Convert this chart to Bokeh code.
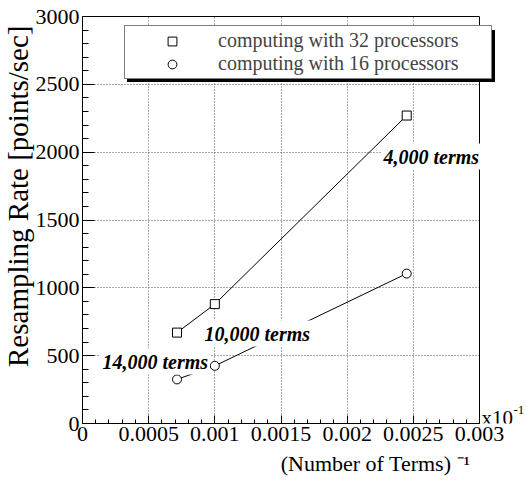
from bokeh.plotting import figure
from bokeh.models import (SingleIntervalTicker, FixedTicker, CustomJSTickFormatter, Label,
                          BoxAnnotation, Legend, LegendItem, Span, Title, LinearAxis, Range1d)
from bokeh.embed import file_html
from bokeh.resources import INLINE

# ---- data ----
inv_terms_32 = [0.000714, 0.001, 0.00245]
rate_32 = [670, 880, 2270]
inv_terms_16 = [0.000714, 0.001, 0.00245]
rate_16 = [325, 425, 1105]
term_labels = ["14,000 terms", "10,000 terms", "4,000 terms"]
series_names = ["computing with 32 processors", "computing with 16 processors"]
x_ticks = [0, 0.0005, 0.001, 0.0015, 0.002, 0.0025, 0.003]
x_minor_step = 0.0001
X_MAX = 0.003
Y_MAX = 3000

SERIF = "Liberation Serif"

# layout (pixels): axes box 82..479 x 16..423; frame extended to the right edge
W, H = 526, 481
BOX_L, BOX_R, BOX_T, BOX_B = 82, 479, 16, 423
x_end = X_MAX * (W - BOX_L) / (BOX_R - BOX_L)

p = figure(width=W, height=H, x_range=Range1d(0, x_end), y_range=Range1d(0, Y_MAX),
           output_backend="svg", toolbar_location=None, title=None,
           min_border_left=BOX_L, min_border_right=0, min_border_top=BOX_T,
           min_border_bottom=H - BOX_B)
p.background_fill_color = "white"
p.border_fill_color = "white"
p.outline_line_color = None

x_minor = [round(i * x_minor_step, 6) for i in range(0, 31)]
p.xaxis.ticker = FixedTicker(ticks=x_ticks, minor_ticks=x_minor)
p.xgrid.ticker = FixedTicker(ticks=x_ticks)
p.yaxis.ticker = SingleIntervalTicker(interval=500, num_minor_ticks=5)
p.ygrid.ticker = SingleIntervalTicker(interval=500)
p.xaxis.formatter = CustomJSTickFormatter(code="return Number(tick.toFixed(5)).toString();")
p.xaxis.bounds = (0, X_MAX)

for ax in (p.xaxis, p.yaxis):
    ax.axis_line_color = "black"
    ax.major_tick_line_color = "black"
    ax.minor_tick_line_color = "black"
    ax.major_tick_out = 0
    ax.minor_tick_out = 0
    ax.major_label_text_font = SERIF
    ax.major_label_text_font_size = "22px"
    ax.major_label_text_color = "black"
    ax.axis_label = None
p.xaxis.major_tick_in = 8
p.xaxis.minor_tick_in = 4
p.yaxis.major_tick_in = 12
p.yaxis.minor_tick_in = 6
p.xaxis.major_label_standoff = 3
p.yaxis.major_label_standoff = 3

for g in (p.xgrid, p.ygrid):
    g.grid_line_color = "#555555"
    g.grid_line_dash = "1 2"
    g.grid_line_width = 1

# white cover for the area right of the axes box (hides grid there)
p.add_layout(BoxAnnotation(left=X_MAX, fill_color="white", fill_alpha=1,
                           line_color=None, level="underlay"))
# top edge of the box
top_axis = LinearAxis(ticker=FixedTicker(ticks=[]), bounds=(0, X_MAX),
                      axis_line_color="black", major_tick_in=0, major_tick_out=0,
                      minor_tick_in=0, minor_tick_out=0)
p.add_layout(top_axis, "above")
# right edge of the box
p.add_layout(Span(location=X_MAX, dimension="height", line_color="black", line_width=1))

# ---- data lines and markers ----
p.line(inv_terms_32, rate_32, line_color="black", line_width=1)
p.line(inv_terms_16, rate_16, line_color="black", line_width=1)
sq = p.scatter(inv_terms_32, rate_32, marker="square", size=9, fill_color="white",
               line_color="black", line_width=1)
ci = p.scatter(inv_terms_16, rate_16, marker="circle", size=9, fill_color="white",
               line_color="black", line_width=1)

# ---- term annotations (screen coords relative to frame) ----
term_pos = [(18, 62), (120, 90), (299, 267)]
for txt, (sx, sy) in zip(term_labels, term_pos):
    p.add_layout(Label(x=sx, y=sy, x_units="screen", y_units="screen", text=txt,
                       text_font=SERIF, text_font_size="20px", text_font_style="bold italic",
                       text_color="black", text_align="left", text_baseline="middle",
                       background_fill_color="white", padding=2))

# ---- legend with shadow ----
def make_legend(loc, bg, labels):
    return Legend(items=[LegendItem(label=labels[0], renderers=[sq]),
                         LegendItem(label=labels[1], renderers=[ci])],
                  location=loc, padding=3, margin=0, spacing=0,
                  glyph_width=88, glyph_height=22, label_height=22, label_standoff=2,
                  label_width=270,
                  label_text_font=SERIF, label_text_font_size="20px",
                  border_line_color="black", border_line_width=1,
                  background_fill_color=bg, background_fill_alpha=1)

p.add_layout(make_legend((45, 341), "black", [" ", " "]))
p.add_layout(make_legend((42, 344), "white", series_names))

# ---- x10^-1 multiplier ----
p.add_layout(Label(x=399, y=6, x_units="screen", y_units="screen",
                   text="x10", text_font=SERIF, text_font_size="21px",
                   text_color="black", text_align="left", text_baseline="alphabetic"))
p.add_layout(Label(x=431, y=14, x_units="screen", y_units="screen",
                   text="-1", text_font=SERIF, text_font_size="13px",
                   text_color="black", text_align="left", text_baseline="alphabetic"))

# ---- axis titles ----
p.add_layout(Title(text="Resampling Rate [points/sec]", align="right", offset=9,
                   standoff=-3, text_font=SERIF, text_font_size="29px",
                   text_font_style="normal", text_color="black"), "left")
p.add_layout(Title(text="(Number of Terms) \u207b\u00b9", align="right", offset=56,
                   standoff=10, text_font=SERIF, text_font_size="22px",
                   text_font_style="normal", text_color="black"), "below")

open("out.html", "w").write(file_html(p, INLINE))
